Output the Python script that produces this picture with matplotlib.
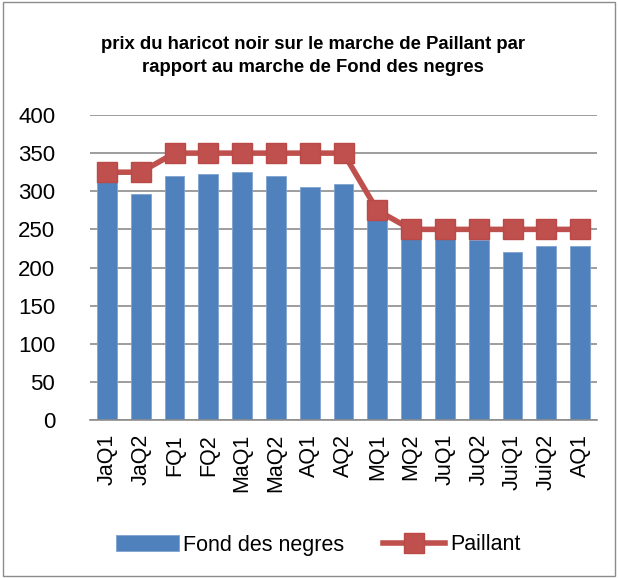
import matplotlib
matplotlib.use("Agg")
import matplotlib.pyplot as plt
from matplotlib.patches import Rectangle
import numpy as np

categories = ["JaQ1", "JaQ2", "FQ1", "FQ2", "MaQ1", "MaQ2", "AQ1", "AQ2",
              "MQ1", "MQ2", "JuQ1", "JuQ2", "JuiQ1", "JuiQ2", "AQ1"]
fond_des_negres = [312, 296, 320, 323, 325, 320, 305, 310, 263, 240, 240, 236, 220, 228, 228]
paillant = [325, 325, 350, 350, 350, 350, 350, 350, 275, 250, 250, 250, 250, 250, 250]

plt.rcParams['font.family'] = ['Liberation Sans', 'DejaVu Sans']

fig = plt.figure(figsize=(6.18, 5.78), dpi=100)
ax = fig.add_axes([90/618, 1 - 420/578, 507/618, 305/578])

x = np.arange(len(categories))
bars = ax.bar(x, fond_des_negres, width=0.59, color="#4F81BD", edgecolor="#7FA3D1", linewidth=0.6,
              label="Fond des negres", zorder=2)
line, = ax.plot(x, paillant, color="#C0504D", linewidth=4, marker="s", markersize=14,
                markerfacecolor="#C0504D", markeredgecolor="#B94A47", label="Paillant", zorder=3)

ax.set_xlim(-0.5, len(categories) - 0.5)
ax.set_ylim(0, 400)
ax.set_yticks(np.arange(0, 401, 50))
ax.yaxis.grid(True, color="#8C8C8C", linewidth=1.2, zorder=0)
ax.set_axisbelow(True)
for s in ["top", "right", "left"]:
    ax.spines[s].set_visible(False)
ax.spines["bottom"].set_color("#8C8C8C")
ax.spines["bottom"].set_linewidth(1.2)
ax.tick_params(axis="y", length=0, labelsize=16, pad=25)
ax.tick_params(axis="x", length=0, labelsize=15.5, pad=10)
ax.set_xticks(x)
ax.set_xticklabels(categories, rotation=90)

fig.text(0.507, 1 - 56/578, "prix du haricot noir sur le marche de Paillant par\nrapport au marche de Fond des negres",
         ha="center", va="center", fontsize=13.3, fontweight="bold", linespacing=1.5)

leg = fig.legend(handles=[bars, line], loc="center", bbox_to_anchor=(0.515, 1 - 545/578), ncol=2,
                 frameon=False, fontsize=15.5, handlelength=2.9, handleheight=0.8,
                 columnspacing=1.8, handletextpad=0.2)

fig.patches.append(Rectangle((0.005, 0.004), 0.99, 0.992, transform=fig.transFigure,
                             fill=False, edgecolor="#8C8C8C", linewidth=1))

fig.savefig("out.png", dpi=100)
